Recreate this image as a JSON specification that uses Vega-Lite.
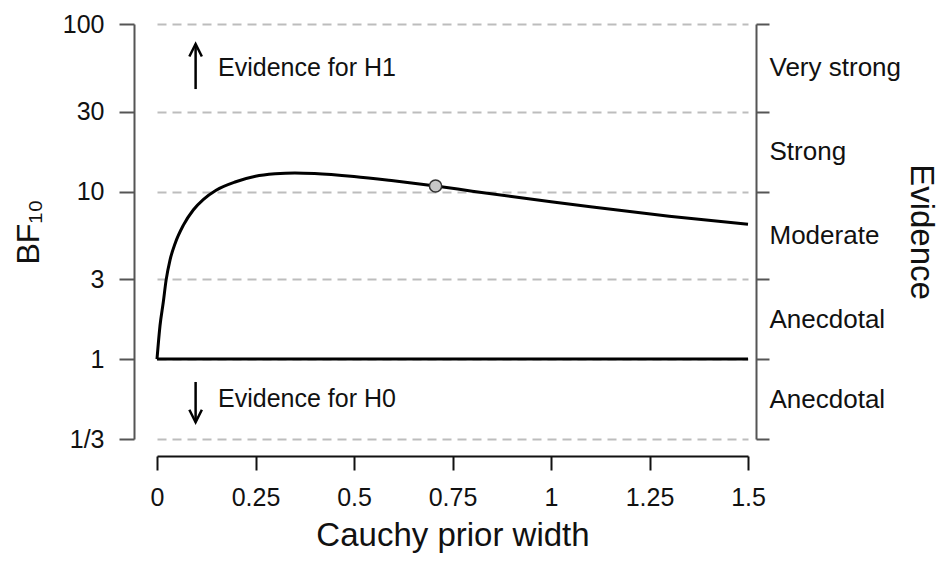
{
  "$schema": "https://vega.github.io/schema/vega-lite/v6.json",
  "description": "Bayes factor robustness check: BF10 against Cauchy prior width",
  "width": 591,
  "height": 415,
  "autosize": {"type": "none"},
  "padding": {"left": 157, "top": 24, "right": 202, "bottom": 124},
  "config": {
    "view": {"stroke": null},
    "font": "Liberation Sans",
    "axis": {
      "labelFont": "Liberation Sans",
      "titleFont": "Liberation Sans",
      "titleFontWeight": "normal",
      "labelColor": "#111",
      "titleColor": "#111"
    }
  },
  "datasets": {
    "curve": [
      {"x": 0, "y": 1},
      {"x": 0.0076, "y": 1.58},
      {"x": 0.016, "y": 2.19},
      {"x": 0.023, "y": 2.95},
      {"x": 0.033, "y": 3.9},
      {"x": 0.046, "y": 4.9},
      {"x": 0.067, "y": 6.3},
      {"x": 0.092, "y": 7.76},
      {"x": 0.118, "y": 8.98},
      {"x": 0.15, "y": 10.18},
      {"x": 0.2, "y": 11.44},
      {"x": 0.25, "y": 12.34},
      {"x": 0.3, "y": 12.76},
      {"x": 0.35, "y": 12.92},
      {"x": 0.4, "y": 12.82},
      {"x": 0.5, "y": 12.3},
      {"x": 0.6, "y": 11.59},
      {"x": 0.707, "y": 10.79},
      {"x": 0.8, "y": 10.05},
      {"x": 0.9, "y": 9.33},
      {"x": 1.0, "y": 8.69},
      {"x": 1.1, "y": 8.11},
      {"x": 1.2, "y": 7.59},
      {"x": 1.3, "y": 7.13},
      {"x": 1.4, "y": 6.73},
      {"x": 1.5, "y": 6.38}
    ],
    "point": [{"x": 0.707, "y": 10.79}],
    "base": [{"x": 0, "x2": 1.5, "y": 1}],
    "arrows": [
      {"x": 0.098, "y": 40.9, "y2": 76, "dir": "up"},
      {"x": 0.098, "y": 0.73, "y2": 0.42, "dir": "down"}
    ],
    "annot": [
      {"x": 0.155, "y": 54.8, "label": "Evidence for H1"},
      {"x": 0.155, "y": 0.577, "label": "Evidence for H0"}
    ]
  },
  "encoding": {
    "x": {
      "field": "x",
      "type": "quantitative",
      "scale": {"domain": [0, 1.5], "nice": false, "zero": false},
      "axis": {
        "title": "Cauchy prior width",
        "titleFontSize": 33,
        "titleY": 63,
        "values": [0, 0.25, 0.5, 0.75, 1, 1.25, 1.5],
        "labelExpr": "'' + datum.value",
        "labelFontSize": 25,
        "labelPadding": 15,
        "labelFlush": false,
        "labelOverlap": false,
        "offset": 17,
        "tickSize": 14,
        "tickWidth": 2,
        "tickColor": "#111",
        "domainColor": "#111",
        "domainWidth": 2,
        "grid": false
      }
    },
    "y": {
      "field": "y",
      "type": "quantitative",
      "scale": {"type": "log", "domain": [0.3333333, 100], "nice": false},
      "axis": null
    }
  },
  "layer": [
    {
      "data": {"name": "curve"},
      "mark": {"type": "line", "color": "black", "strokeWidth": 3, "interpolate": "monotone"},
      "encoding": {
        "y": {
          "field": "y",
          "type": "quantitative",
          "scale": {"type": "log", "domain": [0.3333333, 100], "nice": false},
          "axis": {
            "orient": "left",
            "title": "BF₁₀",
            "titleFontSize": 32,
            "titleX": -89,
            "values": [0.3333333, 1, 3, 10, 30, 100],
            "labelExpr": "datum.value < 0.5 ? '1/3' : format(datum.value, 'd')",
            "labelFontSize": 25,
            "labelPadding": 15,
            "labelOverlap": false,
            "labelFlush": false,
            "offset": 23,
            "tickSize": 15,
            "tickWidth": 2,
            "tickColor": "#555",
            "domainColor": "#555",
            "domainWidth": 2,
            "grid": true,
            "gridDash": [9, 6],
            "gridColor": "#bdbdbd",
            "gridWidth": 2
          }
        }
      }
    },
    {
      "data": {"name": "base"},
      "mark": {"type": "rule", "color": "black", "strokeWidth": 3},
      "encoding": {
        "x2": {"field": "x2"},
        "y": {
          "field": "y",
          "type": "quantitative",
          "scale": {"type": "log", "domain": [0.3333333, 100], "nice": false},
          "axis": {
            "orient": "right",
            "title": "Evidence",
            "titleFontSize": 33,
            "titleX": 147,
            "values": [0.3333333, 0.5773503, 1, 1.7320508, 3, 5.4772256, 10, 17.3205081, 30, 54.7722558, 100],
            "labelExpr": "datum.value > 50 && datum.value < 60 ? 'Very strong' : datum.value > 17 && datum.value < 18 ? 'Strong' : datum.value > 5 && datum.value < 6 ? 'Moderate' : (datum.value > 1.5 && datum.value < 2) || (datum.value > 0.5 && datum.value < 0.6) ? 'Anecdotal' : ''",
            "labelFontSize": 26,
            "labelPadding": 0,
            "labelOverlap": false,
            "labelFlush": false,
            "offset": 8,
            "tickSize": 13,
            "tickWidth": 2,
            "tickColor": "#555",
            "tickOpacity": {
              "condition": {"test": "datum.value == 1 || datum.value == 3 || datum.value == 10 || datum.value == 30 || datum.value == 100 || datum.value < 0.34", "value": 1},
              "value": 0
            },
            "domainColor": "#555",
            "domainWidth": 2,
            "grid": false
          }
        }
      }
    },
    {
      "data": {"name": "point"},
      "mark": {"type": "point", "filled": true, "fill": "#c8c8c8", "stroke": "#333", "strokeWidth": 1.5, "size": 150, "opacity": 1}
    },
    {
      "data": {"name": "arrows"},
      "mark": {"type": "rule", "color": "black", "strokeWidth": 2.5},
      "encoding": {"y2": {"field": "y2"}}
    },
    {
      "data": {"name": "arrows"},
      "mark": {"type": "point", "filled": false, "stroke": "black", "strokeWidth": 2.5, "size": 625, "opacity": 1},
      "encoding": {
        "y": {
          "field": "y2",
          "type": "quantitative",
          "scale": {"type": "log", "domain": [0.3333333, 100], "nice": false},
          "axis": null
        },
        "shape": {
          "field": "dir",
          "type": "nominal",
          "scale": {"domain": ["up", "down"], "range": ["M-0.5,1L0,0L0.5,1", "M-0.5,-1L0,0L0.5,-1"]},
          "legend": null
        }
      }
    },
    {
      "data": {"name": "annot"},
      "mark": {"type": "text", "align": "left", "baseline": "middle", "fontSize": 25, "color": "#111"},
      "encoding": {"text": {"field": "label"}}
    }
  ],
  "resolve": {"axis": {"y": "independent"}}
}
